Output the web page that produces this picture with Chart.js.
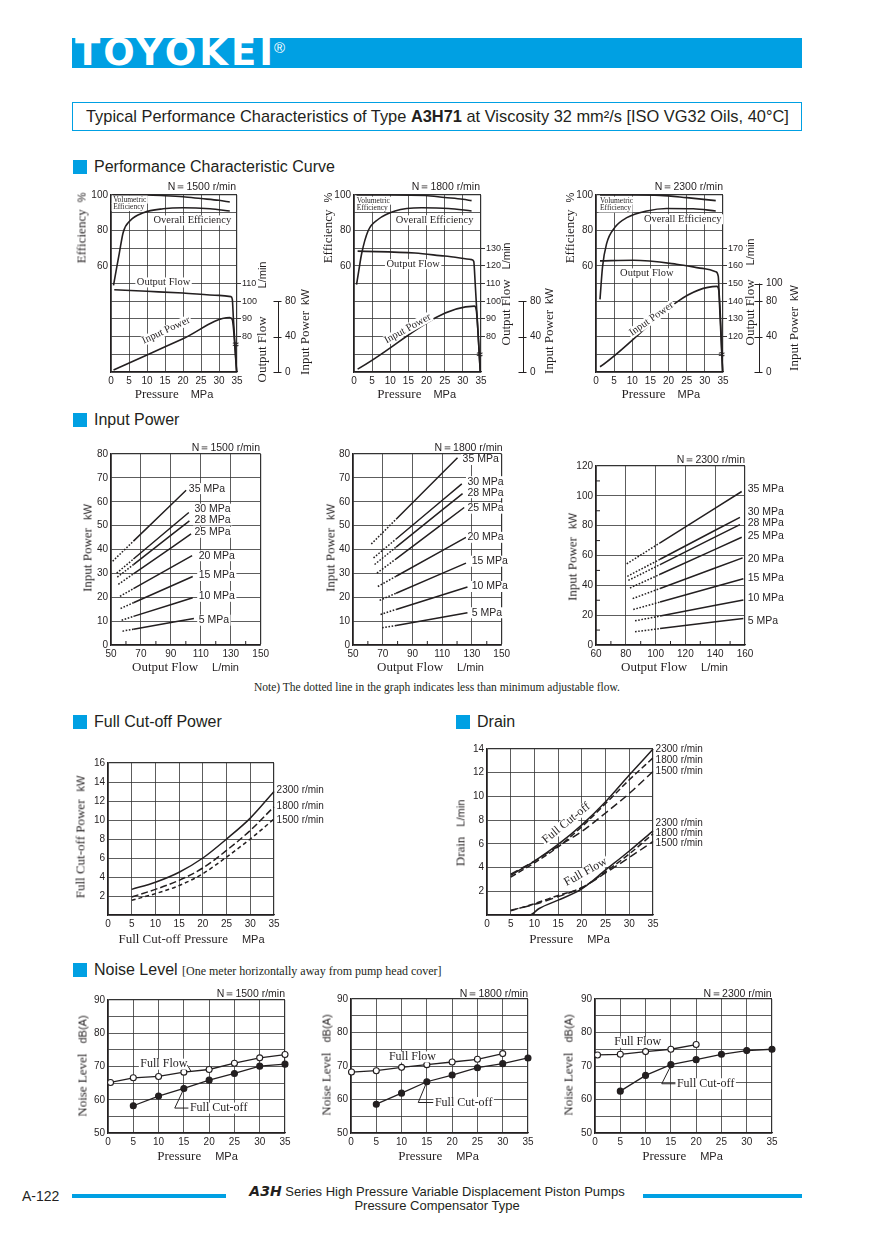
<!DOCTYPE html>
<html>
<head>
<meta charset="utf-8">
<title>A3H71 performance characteristics</title>
<script src="https://cdn.jsdelivr.net/npm/chart.js@4.4.1/dist/chart.umd.min.js"></script>
<style>
  body { margin: 0; background: #fff; }
  #page { position: relative; width: 875px; height: 1236px; overflow: hidden; color: #231f20;
          font-family: "Liberation Sans", Arial, sans-serif; }
  .abs { position: absolute; white-space: pre; line-height: 1; }
  .s { font-family: "Liberation Serif", "Times New Roman", serif; }
  canvas { position: absolute; }
</style>
</head>
<body>
<div id="page"></div>
<script>
// ---------- values ----------
// performance characteristic curves, x = pressure MPa
// efficiency in %, output flow in L/min, input power in kW
const vol1500 = [[0.5,100],[10,100],[15,99.6],[20,99],[25,98],[30,97],[33,96]];
const ovr1500 = [[0.7,49],[1.4,57],[2.3,67],[3.4,79],[5.3,85.5],[9,90],[14.5,92.2],[20,92.8],[27.5,92.2],[33,91]];
const flow1500 = [[0.9,106.5],[10,105.6],[20,104.6],[30,103.3],[33.3,102.6],[33.7,101],[34,90],[34.9,60]];
const pow1500 = [[0.7,2.2],[10,19.3],[20,37.6],[33,61.5],[33.7,59],[34.9,0]];

const vol1800 = [[0.7,100],[10,100],[19.6,99.7],[25,98.6],[30,97.6],[32.4,96.8]];
const ovr1800 = [[0.7,49.3],[1.3,57],[2.1,66.8],[3.9,79.8],[6.7,86.3],[11.3,91],[18.6,92.8],[26,92.4],[32.4,91]];
const flow1800 = [[1,128.3],[16.8,127.2],[25,125.5],[32.4,123.5],[33,122.5],[33.4,110],[34.8,60]];
const pow1800 = [[1,3.3],[33.2,74.4],[33.7,70],[34.8,0]];

const vol2300 = [[1.1,100],[10,100],[17.6,99.8],[25,98.5],[33,96.8]];
const ovr2300 = [[1.1,41],[1.8,59.4],[2.9,72.4],[5.2,81.7],[8.5,87.2],[14,91],[19.5,92.4],[26.8,92.2],[33,91]];
const flow2300 = [[1.1,162.8],[10.3,163.1],[22.2,160.9],[30,158.3],[33,156.7],[33.7,154],[34,140],[34.9,100]];
const pow2300 = [[1.1,5.9],[33.3,96.7],[33.85,92],[34.9,0]];

// right-hand tick labels
const flowTicks1500 = [80, 90, 100, 110];
const flowTicks1800 = [80, 90, 100, 110, 120, 130];
const flowTicks2300 = [120, 130, 140, 150, 160, 170];
const powTicks1500 = [0, 40, 80];
const powTicks1800 = [0, 40, 80];
const powTicks2300 = [0, 40, 80, 100];

// input power vs output flow (L/min -> kW), one line per pressure
const ipPressures = ["35 MPa", "30 MPa", "28 MPa", "25 MPa", "20 MPa", "15 MPa", "10 MPa", "5 MPa"];
const ip1500 = [
  [[51.1,35.1],[65,43.5],[100.2,64.8]],
  [[53.8,30.1],[65,36],[102,55.5]],
  [[54.2,28.4],[65,33.7],[102.4,52]],
  [[54.9,25.4],[65,29.8],[103.5,46.5]],
  [[56,20.4],[65,23.6],[104.2,37.4]],
  [[56.4,15.3],[65,17.7],[104.6,28.7]],
  [[57.1,10.4],[65,12],[104.6,19.8]],
  [[57.7,5.8],[65,6.6],[105.4,11.1]]
];
const ip1800 = [
  [[62.3,42.3],[79,52.7],[120.3,78.4]],
  [[63.8,36.5],[79,44.4],[123.2,67.5]],
  [[64.5,33.7],[79,41],[123.7,63.4]],
  [[66.1,30.1],[79,36.1],[124.8,57.6]],
  [[66.7,24.5],[79,28.8],[126,45.1]],
  [[67.9,18.7],[79,21.7],[126,34.3]],
  [[68.5,12.8],[79,14.9],[127,24.3]],
  [[69.6,7.2],[79,8.2],[127,13.5]]
];
const ip2300 = [
  [[80.6,54.4],[103,68.5],[157.8,102.9]],
  [[81,46],[103,57.5],[156.6,85.6]],
  [[81.7,43.3],[103,53.9],[156.6,80.7]],
  [[82.8,38.2],[103,47.4],[157.8,72.2]],
  [[84.6,31.1],[103,37.9],[158.4,58.4]],
  [[85,23.8],[103,28.8],[158.9,44.4]],
  [[86.2,16.2],[103,19.4],[158.9,30.2]],
  [[86.2,8.9],[103,11],[158.9,17.8]]
];
// below this flow the line is dotted (less than minimum adjustable flow)
const ipMinFlow = [65, 79, 103];

// full cut-off power (MPa -> kW)
const speeds = ["2300 r/min", "1800 r/min", "1500 r/min"];
const cut2300 = [[5,2.7],[10,3.45],[15,4.5],[20,6.0],[25,8.0],[30,10.2],[35,13.0]];
const cut1800 = [[5,1.9],[10,2.7],[15,3.65],[20,4.95],[25,6.8],[30,8.9],[35,11.4]];
const cut1500 = [[5,1.55],[10,2.25],[15,3.1],[20,4.35],[25,6.1],[30,8.0],[35,10.1]];

// drain (MPa -> L/min)
const drainCut2300 = [[5,3.35],[10,4.55],[15,5.95],[20,7.6],[25,9.55],[30,11.8],[35,14.0]];
const drainCut1800 = [[5,3.2],[10,4.4],[15,5.75],[20,7.45],[25,9.4],[30,11.4],[35,13.25]];
const drainCut1500 = [[5,3.45],[10,4.55],[15,5.8],[20,7.05],[25,8.6],[30,10.25],[35,12.1]];
const drainFull2300 = [[5,0],[9,0],[11,0.55],[15,1.25],[20,2.2],[25,3.8],[30,5.4],[35,7.1]];
const drainFull1800 = [[5,0.35],[10,0.95],[15,1.65],[20,2.3],[25,3.65],[30,5.15],[35,6.85]];
const drainFull1500 = [[5,0.4],[10,0.9],[15,1.55],[20,2.3],[25,3.55],[30,4.85],[35,6.2]];

// noise level (MPa -> dB(A))
const noiseFull1500 = [[0.5,65.2],[5,66.6],[10,67],[15,68.3],[20,69.1],[25,71],[30,72.6],[35,73.6]];
const noiseCut1500 = [[5,58.2],[10,61.1],[15,63.4],[20,65.9],[25,67.9],[30,70.1],[35,70.7]];
const noiseFull1800 = [[0.1,68.2],[5,68.6],[10,69.6],[15,70.4],[20,71.2],[25,72],[30,73.7]];
const noiseCut1800 = [[5,58.6],[10,61.9],[15,65.3],[20,67.3],[25,69.5],[30,70.7],[35,72.4]];
const noiseFull2300 = [[0.5,73.3],[5,73.5],[10,74.3],[15,75],[20,76.4]];
const noiseCut2300 = [[5,62.5],[10,67.2],[15,70.4],[20,71.9],[25,73.5],[30,74.6],[35,75]];

// ---------- helpers ----------
const BLUE = "#00a0e3", INK = "#231f20", GRID = "#333";
const SANS = "'Liberation Sans', Arial, sans-serif";
const SERIF = "'Liberation Serif', 'Times New Roman', serif";
Chart.defaults.font.family = SANS;
Chart.defaults.color = INK;

const page = document.getElementById("page");
function put(html, x, y, css) {
  const d = document.createElement("div");
  d.className = "abs";
  d.innerHTML = html;
  d.style.cssText = `left:${x}px;top:${y}px;` + (css || "");
  page.appendChild(d);
  return d;
}
const gap = w => `<span style="display:inline-block;width:${w}px"></span>`;
const vtitle = (x, y, html) => put(html, x, y, "font-size:11px;transform:translate(-50%,-50%) rotate(-90deg);");
const htitle = (x, y, html) => put(html, x, y, "font-size:11px;transform:translate(-50%,-50%);");
const speedTag = (x, y, s) => put(s, x, y, "font-size:10.5px;transform:translate(-100%,-50%);");
const w13 = s => `<span class="s" style="font-size:13px">${s}</span>`;
function heading(x, y, html) {
  put("", x, y - 7, `width:14px;height:14px;background:${BLUE};`);
  put(html, x + 21, y, "font-size:16px;transform:translateY(-50%);");
}

const pts = a => a.map(p => ({ x: p[0], y: p[1] }));
function line(data, o) {
  return Object.assign({
    data: pts(data), borderColor: INK, borderWidth: 1.6, pointRadius: 0,
    fill: false, cubicInterpolationMode: "monotone", clip: false
  }, o || {});
}

function axis(pos, min, max, step, label, grid, size) {
  const horiz = pos === "bottom";
  return {
    type: "linear", position: pos, min, max, offset: false,
    ticks: {
      stepSize: step, autoSkip: false, maxRotation: 0, padding: 3, color: INK,
      font: { family: SANS, size: 10 },
      callback: v => (label(v) ? v : "")
    },
    grid: {
      drawTicks: false,
      color: c => (grid(c.tick.value) ? GRID : "rgba(0,0,0,0)"),
      lineWidth: c => (c.tick.value === max ? 1.2 : 0.8)
    },
    border: { display: true, color: INK, width: 1.2 },
    afterFit: s => { if (horiz) s.height = size; else s.width = size; }
  };
}

// draws in-plot labels, leader lines, inner minor ticks and the detached kW axis
function decor(items) {
  return {
    id: "decor",
    afterDatasetsDraw(ch) {
      const g = ch.ctx, sx = ch.scales.x, area = ch.chartArea;
      items.forEach(it => {
        const sy = ch.scales[it.ax || "y"];
        const px = v => sx.getPixelForValue(v), py = v => sy.getPixelForValue(v);
        g.save();
        g.strokeStyle = INK; g.fillStyle = INK; g.lineWidth = 1;
        if (it.path) {
          g.beginPath();
          it.path.forEach((p, i) => (i ? g.lineTo(px(p[0]), py(p[1])) : g.moveTo(px(p[0]), py(p[1]))));
          g.stroke();
        } else if (it.minorX) {
          it.minorX.forEach(v => { g.beginPath(); g.moveTo(px(v), area.bottom); g.lineTo(px(v), area.bottom - 4); g.stroke(); });
        } else if (it.minorY) {
          it.minorY.forEach(v => { g.beginPath(); g.moveTo(area.left, py(v)); g.lineTo(area.left + 4, py(v)); g.stroke(); });
        } else if (it.paxis) {
          const s = ch.scales[it.paxis], x = Math.round(s.left) + 0.5;
          g.beginPath();
          g.moveTo(x, s.getPixelForValue(0));
          g.lineTo(x, s.getPixelForValue(Math.max(...it.vals)));
          it.vals.forEach(v => { const y = Math.round(s.getPixelForValue(v)) + 0.5; g.moveTo(x - 5, y); g.lineTo(x + 3, y); });
          g.stroke();
        } else {
          g.translate(px(it.x), py(it.y));
          if (it.rot) g.rotate(it.rot * Math.PI / 180);
          g.font = it.f; g.textAlign = it.al || "left"; g.textBaseline = "middle";
          if (it.bg) {
            const w = g.measureText(it.s).width, h = it.h || 10;
            const x0 = it.al === "center" ? -w / 2 : 0;
            g.fillStyle = "#fff"; g.fillRect(x0 - 1.5, -h / 2, w + 3, h); g.fillStyle = INK;
          }
          g.fillText(it.s, 0, 0);
        }
        g.restore();
      });
    }
  };
}

function chart(plot, m, scales, datasets, items) {
  const c = document.createElement("canvas");
  const W = plot.w + m.l + m.r, H = plot.h + m.t + m.b;
  c.width = W; c.height = H;
  c.style.left = plot.x - m.l + "px"; c.style.top = plot.y - m.t + "px";
  c.style.width = W + "px"; c.style.height = H + "px";
  page.appendChild(c);
  new Chart(c, {
    type: "line",
    data: { datasets },
    options: {
      responsive: false, animation: false, events: [],
      layout: { padding: { top: m.t, right: m.pr || 0, left: 0, bottom: 0 } },
      plugins: { legend: { display: false }, tooltip: { enabled: false } },
      scales
    },
    plugins: [decor(items)]
  });
}

const T = (x, y, s, f, o) => Object.assign({ x, y, s, f }, o || {});
const volF = "7.5px " + SERIF, lblF = "10.5px " + SERIF, mpaF = "10.5px " + SANS, rpmF = "10px " + SANS, tagF = "12px " + SERIF;

// ---------- page frame ----------
put("", 72, 38, `width:730px;height:30px;background:${BLUE};`);
put("TOYOKEI", 75, 38, "color:#fff;font:bold 37px 'DejaVu Sans';letter-spacing:3px;line-height:30px;");
put("®", 274, 40, "color:#fff;font-size:15px;");
put("Typical Performance Characteristics of Type <b>A3H71</b> at Viscosity 32 mm²/s [ISO VG32 Oils, 40°C]", 72, 102,
  `box-sizing:border-box;width:730px;height:29px;border:1.5px solid ${BLUE};padding-left:13px;font-size:16.4px;line-height:26px;`);

heading(73, 167, "Performance Characteristic Curve");
heading(73, 420, "Input Power");
heading(73, 722, "Full Cut-off Power");
heading(456, 722, "Drain");
heading(73, 970, `Noise Level <span class="s" style="font-size:12px">[One meter horizontally away from pump head cover]</span>`);

put(`<span class="s">Note) The dotted line in the graph indicates less than minimum adjustable flow.</span>`, 437, 688,
  "font-size:11.5px;transform:translate(-50%,-50%);");

put("A-122", 22, 1196, "font-size:14px;transform:translateY(-50%);");
put("", 72, 1194, `width:154px;height:4px;background:${BLUE};`);
put("", 643, 1194, `width:159px;height:4px;background:${BLUE};`);
put(`<b style="font-style:italic;font-family:'DejaVu Sans';font-size:14px">A3H</b> Series High Pressure Variable Displacement Piston Pumps`, 437, 1191,
  "font-size:13px;transform:translate(-50%,-50%);");
put("Pressure Compensator Type", 437, 1205, "font-size:13px;transform:translate(-50%,-50%);");

// ---------- performance characteristic curves ----------
function perf(plot, y2w, flowMin, flowTicks, powTicks, vol, ovr, flow, pow, notes) {
  const m = { l: 24, t: 10, r: y2w + 30, b: 16 };
  const scales = {
    y: axis("left", 0, 100, 10, v => v >= 60 && v % 20 === 0, () => true, m.l),
    y2: {
      type: "linear", position: "right", min: flowMin, max: flowMin + 100, offset: false,
      ticks: { stepSize: 10, autoSkip: false, padding: 1, color: INK, font: { family: SANS, size: 9 },
        callback: v => (flowTicks.includes(v) ? v : "") },
      grid: { drawOnChartArea: false, drawTicks: true, tickLength: 4, lineWidth: 0.9, color: "rgba(0,0,0,0)",
        tickColor: c => (flowTicks.includes(c.tick.value) ? INK : "rgba(0,0,0,0)") },
      border: { display: false },
      afterFit: s => { s.width = y2w; }
    },
    y3: {
      type: "linear", position: "right", min: 0, max: 200, offset: false,
      ticks: { stepSize: 20, autoSkip: false, padding: 7, color: INK, font: { family: SANS, size: 10 },
        callback: v => (powTicks.includes(v) ? v : "") },
      grid: { display: false, drawTicks: false },
      border: { display: false },
      afterFit: s => { s.width = 30; }
    },
    x: axis("bottom", 0, 35, 5, () => true, () => true, m.b)
  };
  const ds = [line(vol), line(ovr), line(flow, { yAxisID: "y2" }), line(pow, { yAxisID: "y3" })];
  chart(plot, m, scales, ds, notes.concat([{ paxis: "y3", vals: powTicks }]));
}
function perfNotes(vx, vy1, vy2, ox, oy, fx, fy, ix, iy, ir, by) {
  return [
    T(vx, vy1, "Volumetric", volF, { bg: true, h: 8 }),
    T(vx, vy2, "Efficiency", volF, { bg: true, h: 8 }),
    T(ox, oy, "Overall Efficiency", lblF, { al: "center", bg: true }),
    T(fx, fy, "Output Flow", lblF, { al: "center", bg: true }),
    T(ix, iy, "Input Power", lblF, { al: "center", bg: true, rot: ir }),
    T(34.6, by, "≈", "bold 11px " + SANS, { al: "center" })
  ];
}

perf({ x: 111, y: 192, w: 126, h: 180 }, 41, 60, flowTicks1500, powTicks1500, vol1500, ovr1500, flow1500, pow1500,
  perfNotes(0.6, 97.4, 93.2, 22.6, 85.6, 14.6, 50.6, 15.3, 23.5, -25, 15));
perf({ x: 354, y: 192, w: 127, h: 180 }, 42, 60, flowTicks1800, powTicks1800, vol1800, ovr1800, flow1800, pow1800,
  perfNotes(0.74, 96.8, 92.8, 22.2, 85.7, 16.3, 60.9, 14.8, 24.5, -29, 9.5));
perf({ x: 596, y: 192, w: 127, h: 180 }, 36, 100, flowTicks2300, powTicks2300, vol2300, ovr2300, flow2300, pow2300,
  perfNotes(1.1, 96.8, 92.4, 23.9, 86.3, 14, 55.7, 15.3, 30, -35, 9.5));

[[81, 111, 261, 28, 321.5, 304, 332, 174, 236],
 [326.5, 354, 505, 10, 293.5, 548, 331, 416.7, 480],
 [568.5, 596, 749, 14, 291.5, 793, 327.5, 660.8, 723]].forEach(([ex, px, fx, fg, fy, ix, iy, cx, nr], i) => {
  vtitle(ex, 228, w13("Efficiency") + gap(7) + "%");
  vtitle(fx, fy, w13("Output Flow") + gap(fg) + "L/min");
  vtitle(ix, iy, w13("Input Power") + gap(6) + "kW");
  htitle(cx, 393, w13("Pressure") + gap(12) + "MPa");
  speedTag(nr, 186, "N＝" + ["1500", "1800", "2300"][i] + " r/min");
});

// ---------- input power ----------
function ipChart(plot, xmin, xmax, ymax, ystepGrid, minFlow, series, labels, extra, pr) {
  const m = { l: 24, t: 8, r: pr, b: 16, pr };
  const scales = {
    y: axis("left", 0, ymax, 10, v => v % ystepGrid === 0, v => v % ystepGrid === 0, m.l),
    x: axis("bottom", xmin, xmax, 10, v => (v - xmin) % 20 === 0, v => (v - xmin) % 20 === 0, m.b)
  };
  const ds = series.map(s => line(s, {
    borderWidth: 1.5,
    segment: { borderDash: c => (c.p1.parsed.x <= minFlow + 1e-6 ? [1.6, 1.6] : undefined) }
  }));
  const items = labels.map((p, i) => T(p[0], p[1], ipPressures[i], mpaF, { bg: true, h: 11 })).concat(extra);
  chart(plot, m, scales, ds, items);
}
ipChart({ x: 111, y: 453, w: 151, h: 192 }, 50, 150, 80, 10, ipMinFlow[0], ip1500,
  [[102, 65.5], [105.8, 56.9], [105.8, 52.4], [105.8, 47.2], [108.6, 37.4], [108.6, 29.1], [108.6, 20.4], [108.6, 10.4]],
  [{ minorX: [60, 80, 100, 120, 140] }], 10);
ipChart({ x: 353, y: 453, w: 150, h: 192 }, 50, 150, 80, 10, ipMinFlow[1], ip1800,
  [[123.7, 77.7], [127, 68.4], [127, 63.8], [127, 57.3], [127, 45.1], [129.9, 35.1], [129.9, 24.5], [129.9, 13.5]],
  [{ minorX: [60, 80, 100, 120, 140] }], 10);
ipChart({ x: 596, y: 465, w: 149, h: 180 }, 60, 160, 120, 20, ipMinFlow[2], ip2300,
  [[161.8, 104.4], [161.8, 88.9], [161.8, 81.8], [161.8, 72.9], [161.8, 57.8], [161.8, 45.1], [161.8, 31.6], [161.8, 16.2]],
  [{ minorX: [70, 90, 110, 130, 150] }, { minorY: [10, 30, 50, 70, 90, 110] }], 50);

[[87, 548, 185.5, 260, 447], [330, 548, 430.5, 502.7, 447], [572, 557, 674.5, 745, 459]].forEach(([vx, vy, hx, nr, ny], i) => {
  vtitle(vx, vy, w13("Input Power") + gap(8) + "kW");
  htitle(hx, 666, w13("Output Flow") + gap(14) + "L/min");
  speedTag(nr, ny, "N＝" + ["1500", "1800", "2300"][i] + " r/min");
});

// ---------- full cut-off power ----------
chart({ x: 108, y: 762, w: 166, h: 153 }, { l: 22, t: 8, r: 60, b: 18, pr: 60 }, {
  y: axis("left", 0, 16, 2, v => v > 0, () => true, 22),
  x: axis("bottom", 0, 35, 5, () => true, () => true, 18)
}, [
  line(cut2300, { borderWidth: 1.5 }),
  line(cut1800, { borderWidth: 1.5, borderDash: [7, 3] }),
  line(cut1500, { borderWidth: 1.5, borderDash: [4, 3] })
], [13.1, 11.5, 10.0].map((y, i) => T(35.55, y, speeds[i], rpmF)));
vtitle(80, 837, w13("Full Cut-off Power") + gap(8) + "kW");
htitle(191.5, 938, w13("Full Cut-off Pressure") + gap(14) + "MPa");

// ---------- drain ----------
chart({ x: 487, y: 748, w: 166, h: 167 }, { l: 22, t: 8, r: 64, b: 18, pr: 64 }, {
  y: axis("left", 0, 14, 2, v => v > 0, () => true, 22),
  x: axis("bottom", 0, 35, 5, () => true, () => true, 18)
}, [
  line(drainCut2300, { borderWidth: 1.5 }),
  line(drainCut1800, { borderWidth: 1.5, borderDash: [6, 3] }),
  line(drainCut1500, { borderWidth: 1.5, borderDash: [8, 4] }),
  line(drainFull2300, { borderWidth: 1.5 }),
  line(drainFull1800, { borderWidth: 1.5, borderDash: [6, 3] }),
  line(drainFull1500, { borderWidth: 1.5, borderDash: [8, 4] })
], [14.0, 13.05, 12.13].map((y, i) => T(35.55, y, speeds[i], rpmF))
  .concat([7.75, 6.92, 6.08].map((y, i) => T(35.55, y, speeds[i], rpmF)))
  .concat([
    T(16.7, 7.75, "Full Cut-off", tagF, { al: "center", bg: true, h: 11, rot: -39 }),
    T(20.8, 3.63, "Full Flow", tagF, { al: "center", bg: true, h: 11, rot: -29 })
  ]));
vtitle(460, 833, w13("Drain") + gap(10) + "L/min");
htitle(569.5, 938, w13("Pressure") + gap(14) + "MPa");

// ---------- noise level ----------
function noise(plot, full, cut, notes) {
  const m = { l: 22, t: 8, r: 10, b: 16, pr: 10 };
  const mark = fill => ({ tension: 0, cubicInterpolationMode: "default", borderWidth: 1.3, pointRadius: 3,
    pointBorderColor: INK, pointBorderWidth: 1.1, pointBackgroundColor: fill });
  chart(plot, m, {
    y: axis("left", 50, 90, 5, v => v % 10 === 0, () => true, m.l),
    x: axis("bottom", 0, 35, 5, () => true, () => true, m.b)
  }, [line(full, mark("#fff")), line(cut, mark(INK))], notes);
}
noise({ x: 108, y: 999, w: 177, h: 134 }, noiseFull1500, noiseCut1500, [
  T(6.4, 70.7, "Full Flow", tagF, { bg: true, h: 11 }),
  { path: [[15.7, 70.4], [16.4, 68.6]] },
  { path: [[15, 63.3], [13.2, 57.5], [16.0, 57.5]] },
  T(16.2, 57.5, "Full Cut-off", tagF, { bg: true, h: 11 })
]);
noise({ x: 351, y: 998, w: 177, h: 135 }, noiseFull1800, noiseCut1800, [
  T(7.5, 72.7, "Full Flow", tagF, { bg: true, h: 11 }),
  { path: [[15, 65.3], [13.3, 59.1], [16.3, 59.1]] },
  T(16.6, 59.1, "Full Cut-off", tagF, { bg: true, h: 11 })
]);
noise({ x: 595, y: 998, w: 177, h: 135 }, noiseFull2300, noiseCut2300, [
  T(3.8, 77.1, "Full Flow", tagF, { bg: true, h: 11 }),
  { path: [[15.1, 70.4], [13.2, 64.7], [16.1, 64.7]] },
  T(16.2, 64.7, "Full Cut-off", tagF, { bg: true, h: 11 })
]);
[[81.5, 1066, 197.5, 285], [326, 1065, 438.5, 528], [568, 1065, 682.5, 771.7]].forEach(([vx, vy, hx, nr], i) => {
  vtitle(vx, vy, w13("Noise Level") + gap(10) + "dB(A)");
  htitle(hx, 1155, w13("Pressure") + gap(14) + "MPa");
  speedTag(nr, 993, "N＝" + ["1500", "1800", "2300"][i] + " r/min");
});
</script>
</body>
</html>
